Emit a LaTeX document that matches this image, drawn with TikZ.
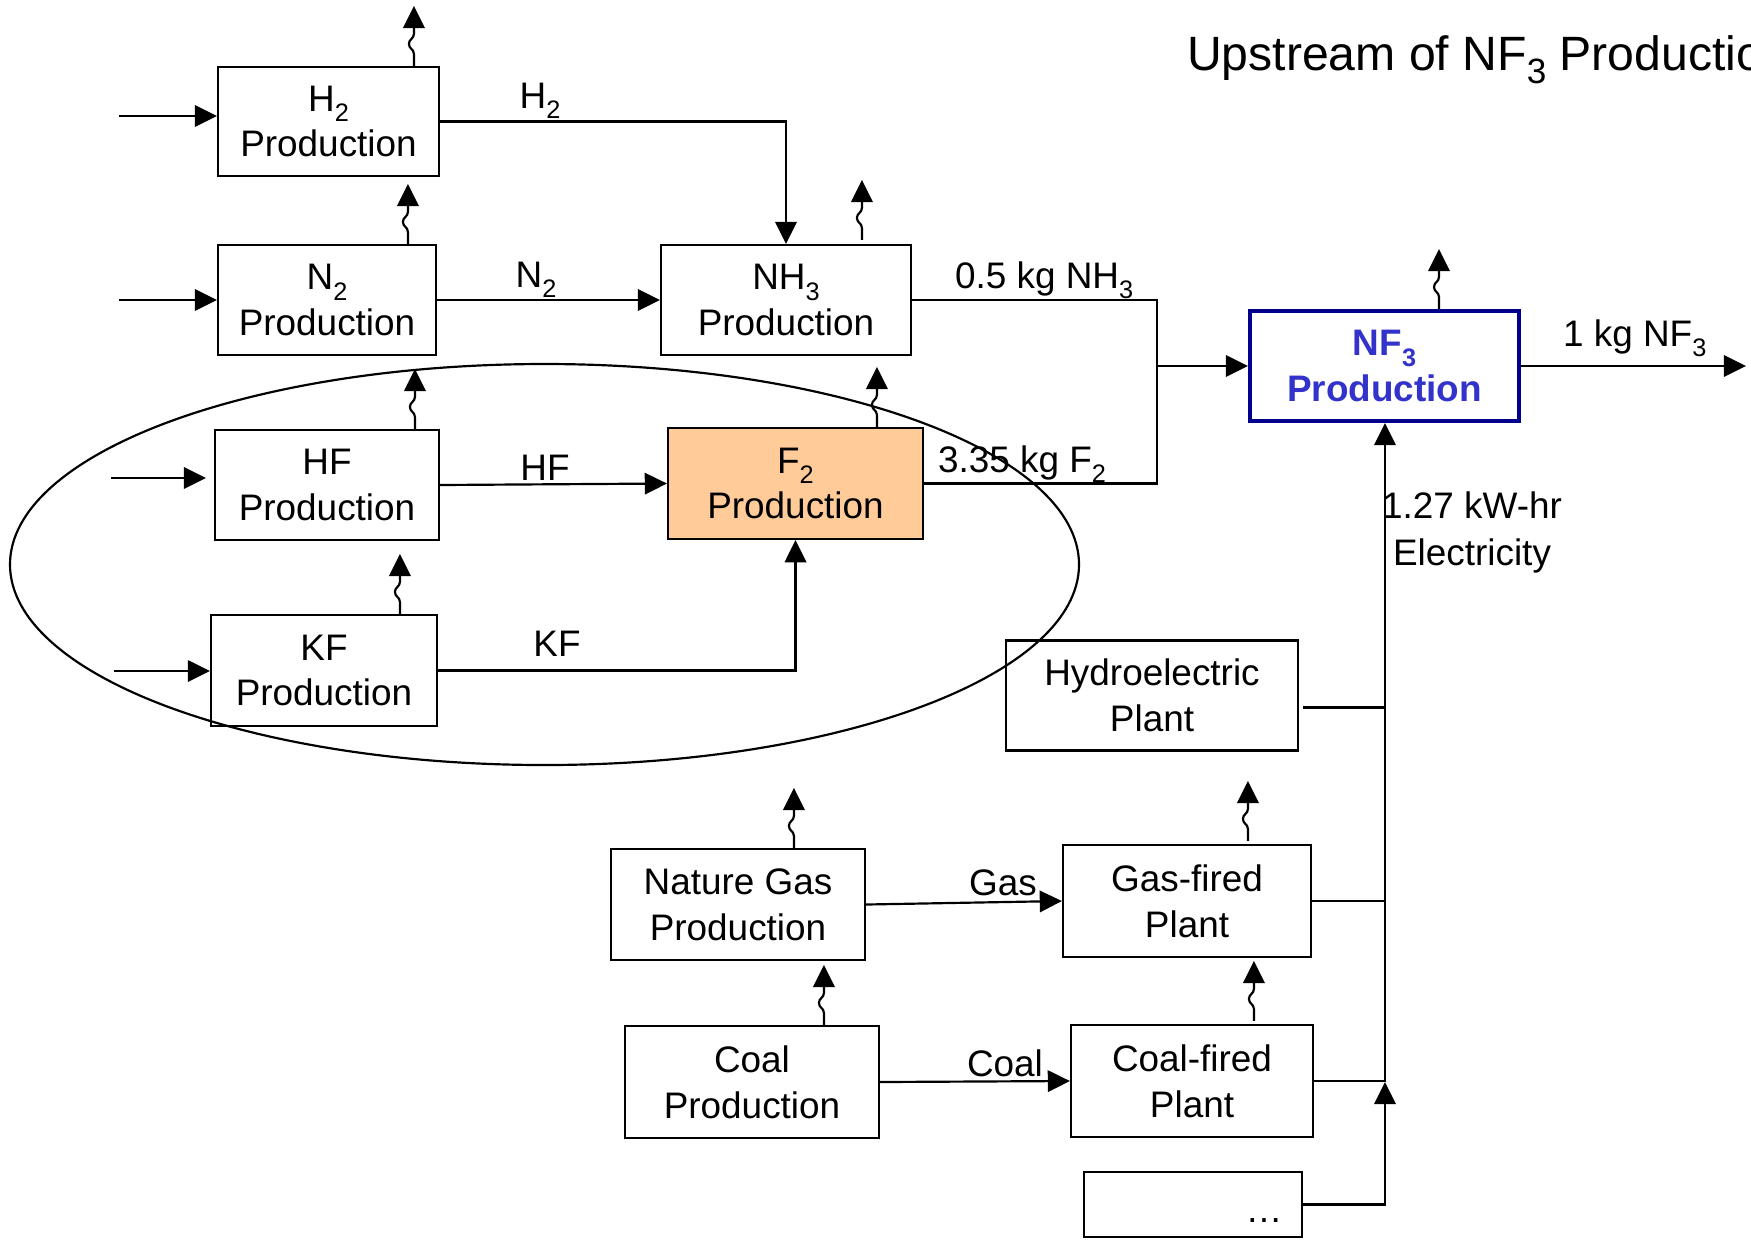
\documentclass[tikz,border=0pt]{standalone}
\usepackage{fontspec}
\setmainfont{Liberation Sans}
\usetikzlibrary{arrows.meta,calc}
\newcommand\sub[2][7.2]{\raisebox{-0.28em}{\fontsize{#1}{#1}\selectfont #2}}
\newcommand\emis[1]{\draw[arr] #1 -- ++(0,-12) .. controls +(0,-5) and +(0,5) .. ++(-5,-10) .. controls +(0,-5) and +(0,5) .. ++(5,-10) -- ++(0,-28);}
\definecolor{peach}{HTML}{FFCC99}
\definecolor{nfline}{RGB}{0,0,140}
\definecolor{nftext}{HTML}{3333CC}
\begin{document}
\begin{tikzpicture}[x=0.1mm,y=-0.1mm,
  line width=0.62pt,
  every node/.style={font=\fontsize{10.5}{13}\selectfont},
  box/.style={draw, line width=0.62pt, align=center, inner sep=0pt},
  lbl/.style={inner sep=0pt, anchor=base},
  arr/.style={-{Triangle[length=6.3pt,width=6.1pt]}}]
\useasboundingbox (0,0) rectangle (1751,1242);
\clip (0,0) rectangle (1751,1242);

% title
\node[lbl, anchor=base west, font=\fontsize{13.7}{16}\selectfont] (title) at (1186,70) {Upstream of NF\sub[10]{3} Production};

% ellipse
\draw (544.5,564.5) ellipse [x radius=534.5, y radius=200.5];

% boxes
\node[box, minimum width=22.1mm, minimum height=10.9mm] (h2) at (328.5,121.5) {H\sub{2}\\Production};
\node[box, minimum width=21.8mm, minimum height=11.0mm] (n2) at (327,300) {N\sub{2}\\Production};
\node[box, minimum width=25.0mm, minimum height=11.0mm] (nh3) at (786,300) {NH\sub{3}\\Production};
\node[box, minimum width=22.4mm, minimum height=11.0mm] (hf) at (327,485) {HF\\Production};
\node[box, fill=peach, minimum width=25.5mm, minimum height=11.1mm] (f2) at (795.5,483.5) {F\sub{2}\\Production};
\node[box, minimum width=22.6mm, minimum height=11.1mm] (kf) at (324,670.5) {KF\\Production};
\node[box, draw=nfline, line width=1.15pt, text=nftext, font=\fontsize{10.5}{13}\selectfont\bfseries, minimum width=26.9mm, minimum height=11.0mm] (nf3) at (1384.5,366) {NF\sub{3}\\Production};
\node[box, minimum width=29.2mm, minimum height=11.0mm] (hydro) at (1152,695.5) {Hydroelectric\\Plant};
\node[box, minimum width=25.4mm, minimum height=11.1mm] (ng) at (738,904.5) {Nature Gas\\Production};
\node[box, minimum width=24.8mm, minimum height=11.2mm] (gf) at (1187,901) {Gas-fired\\Plant};
\node[box, minimum width=25.4mm, minimum height=11.2mm] (cp) at (752,1082) {Coal\\Production};
\node[box, minimum width=24.2mm, minimum height=11.2mm] (cf) at (1192,1081) {Coal-fired\\Plant};
\node[box, minimum width=21.8mm, minimum height=6.5mm] (dots) at (1193,1204.5) {};
\node[lbl] (dotstext) at (1264,1222) {…};

% inputs from the left
\coordinate (inh2) at (119,116);
\coordinate (inn2) at (119,300);
\coordinate (inhf) at (111,478);
\coordinate (inkf) at (114,671);
\draw[arr] (inh2) -- (inh2 -| h2.west);
\draw[arr] (inn2) -- (inn2 -| n2.west);
\draw[arr] (inhf) -- ($(inhf -| hf.west)+(-8,0)$);
\draw[arr] (inkf) -- (inkf -| kf.west);

% main flows
\draw[arr] (h2.east) -| (nh3.north);
\draw[arr] (n2.east) -- (nh3.west);
\draw[arr] (hf.east) -- (f2.west);
\draw[arr] (kf.east) -| (f2.south);
\coordinate (jx) at (1157,366);
\draw (nh3.east) -| (jx);
\draw (f2.east) -| (jx);
\draw[arr] (jx) -- (nf3.west);
\coordinate (out) at (1746,366);
\draw[arr] (nf3.east) -- (out);

% electricity
\draw[arr] (ng.east) -- (gf.west);
\draw[arr] (cp.east) -- (cf.west);
\coordinate (busc) at (1385,1082);
\draw[arr] (dots.east) -| (busc);
\draw (cf.east) -- (cf.east -| busc);
\draw (gf.east) -- (gf.east -| busc);
\draw ($(hydro.east)+(4,12)$) -- ($(hydro.east -| busc)+(0,12)$);
\draw[arr] (busc) -- (busc |- nf3.south);

% emissions
\emis{($(h2.north west)+(197,0)$)}
\emis{($(n2.north west)+(191,0)$)}
\emis{($(nh3.north west)+(202,-4)$)}
\emis{($(hf.north west)+(201,0)$)}
\emis{($(f2.north west)+(210,0)$)}
\emis{($(kf.north west)+(190,0)$)}
\emis{($(nf3.north west)+(191,0)$)}
\emis{($(ng.north west)+(184,0)$)}
\emis{($(gf.north west)+(186,-3)$)}
\emis{($(cp.north west)+(200,0)$)}
\emis{($(cf.north west)+(184,-3)$)}

% labels
\node[lbl] (lh2) at (540,108) {H\sub{2}};
\node[lbl] (ln2) at (536,287) {N\sub{2}};
\node[lbl] (lhf) at (545,480) {HF};
\node[lbl] (lkf) at (557,656) {KF};
\node[lbl, anchor=base west] (lnh3) at (954,288) {0.5 kg NH\sub{3}};
\node[lbl, anchor=base west] (lf2) at (937,472) {3.35 kg F\sub{2}};
\node[lbl, anchor=base west] (lnf3) at (1562,346) {1 kg NF\sub{3}};
\node[lbl] (lgas) at (1003,895) {Gas};
\node[lbl] (lcoal) at (1005,1076) {Coal};
\node[lbl] (lel1) at (1472,518) {1.27 kW-hr};
\node[lbl] (lel2) at (1472,565) {Electricity};
\end{tikzpicture}
\end{document}
